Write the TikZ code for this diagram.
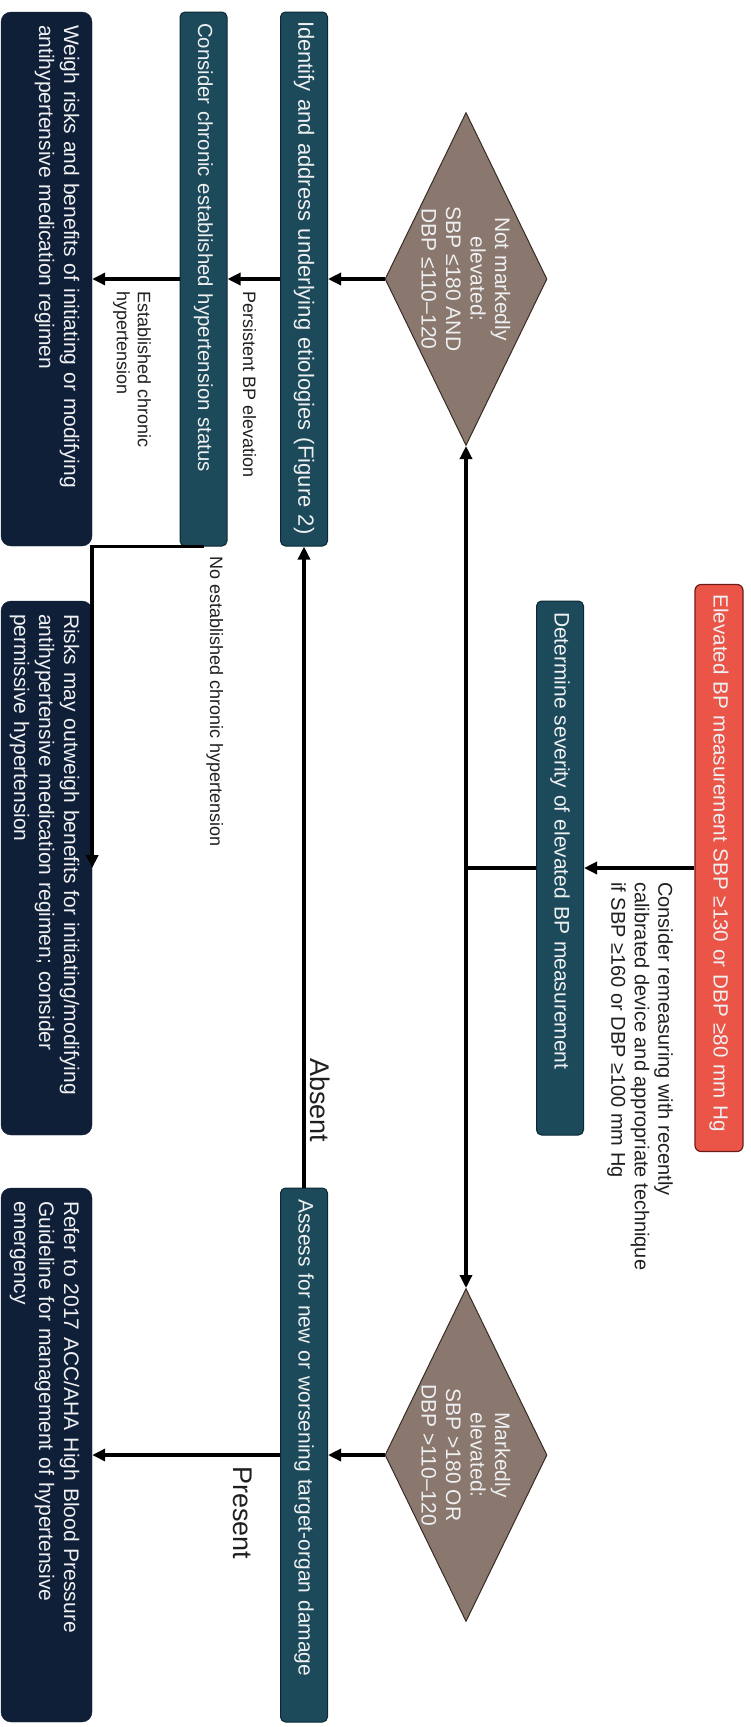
\documentclass[tikz,border=0pt]{standalone}
\usepackage{fontspec}
\setmainfont{Liberation Sans}
\usetikzlibrary{shapes.geometric,arrows.meta}
\definecolor{alertred}{RGB}{234,85,71}
\definecolor{alertline}{RGB}{110,28,24}
\definecolor{stepteal}{RGB}{28,74,90}
\definecolor{stepline}{RGB}{12,40,52}
\definecolor{choicebrown}{RGB}{138,119,109}
\definecolor{choiceline}{RGB}{55,44,38}
\definecolor{endnavy}{RGB}{16,31,56}
\definecolor{boxtext}{RGB}{238,240,242}

\tikzset{
  alertbox/.style={rectangle, rounded corners=6pt, draw=alertline, line width=1.2pt, fill=alertred,
    text=boxtext, font=\fontsize{20.6}{25}\selectfont, inner xsep=10pt, inner ysep=0pt,
    minimum height=48pt, text width=547pt, align=left},
  stepbox/.style={rectangle, rounded corners=5pt, draw=stepline, line width=1pt, fill=stepteal,
    text=boxtext, font=\fontsize{21}{25}\selectfont, inner xsep=11pt, inner ysep=0pt,
    minimum height=47pt, text width=512pt, align=left},
  endbox/.style={rectangle, rounded corners=10pt, draw=endnavy, fill=endnavy,
    text=boxtext, font=\fontsize{21}{25}\selectfont, inner xsep=13pt, inner ysep=0pt,
    text width=508pt, align=left, text height=28pt, text depth=63pt},
  choice/.style={diamond, draw=choiceline, line width=1pt, fill=choicebrown, inner sep=0pt,
    minimum width=333pt, minimum height=162pt},
  choicetext/.style={text=boxtext, font=\fontsize{21}{24.5}\selectfont, align=center, inner sep=0pt},
  note/.style={font=\fontsize{20}{23.5}\selectfont, text=black!88, inner sep=0pt, align=left},
  lbl/.style={font=\fontsize{18}{21}\selectfont, text=black!88, inner sep=0pt, align=left},
  biglbl/.style={font=\fontsize{27}{30}\selectfont, text=black!88, inner sep=0pt},
  link/.style={line width=3.5pt},
  arr/.style={line width=3.5pt, -{Triangle[length=13pt,width=12pt]}},
}

\begin{document}
\begin{tikzpicture}[x=1pt, y=1pt, rotate=-90, transform shape]
  \useasboundingbox (0,0) rectangle (1727,751);

  % top row
  \node[alertbox] (elevated) at (868,719) {Elevated BP measurement SBP ≥130 or DBP ≥80 mm Hg};
  \node[stepbox] (severity) at (868,560) {Determine severity of elevated BP measurement};
  \node[note, anchor=north west] (remeasure) at (882,673)
    {Consider remeasuring with recently\\calibrated device and appropriate technique\\if SBP ≥160 or DBP ≥100 mm Hg};

  % decisions
  \node[choice, label={[choicetext]center:{Not markedly\\elevated:\\SBP ≤180 AND\\DBP ≤110–120}}] (notmarked) at (279,466) {};
  \node[choice, label={[choicetext]center:{Markedly\\elevated:\\SBP >180 OR\\DBP >110–120}}] (marked) at (1455,466) {};
  \coordinate (split) at (868,466);

  % middle boxes
  \node[stepbox, font=\fontsize{22}{25}\selectfont, inner xsep=9pt, text width=516pt] (etiology) at (279,304) {Identify and address underlying etiologies (Figure 2)};
  \node[stepbox] (organ) at (1455,304) {Assess for new or worsening target-organ damage};
  \node[stepbox, font=\fontsize{20.4}{25}\selectfont] (chronic) at (279,203.5) {Consider chronic established hypertension status};

  % outcomes
  \node[endbox] (weigh) at (279,46.5) {Weigh risks and benefits of initiating or modifying\\antihypertensive medication regimen};
  \node[endbox] (permissive) at (868,46.5) {Risks may outweigh benefits for initiating/modifying\\antihypertensive medication regimen; consider\\permissive hypertension};
  \node[endbox] (guideline) at (1455,46.5) {Refer to 2017 ACC/AHA High Blood Pressure\\Guideline for management of hypertensive\\emergency};

  % connectors
  \draw[arr] (elevated.south) -- (severity.north);
  \draw[link] (severity.south) -- (split);
  \draw[arr] (split) -- (notmarked.east);
  \draw[arr] (split) -- (marked.west);
  \draw[arr] (notmarked.south) -- (etiology.north);
  \draw[arr] (marked.south) -- (organ.north);
  \draw[arr] (organ.west) -- (etiology.east);
  \draw[arr] (etiology.south) -- (chronic.north);
  \draw[arr] (chronic.south) -- (weigh.north);
  \draw[arr] (chronic.east) |- (permissive.north);
  \draw[arr] (organ.south) -- (guideline.north);

  % connector labels
  \node[biglbl, anchor=base west] (absent) at (1058,310) {Absent};
  \node[biglbl, anchor=base west] (present) at (1466,233) {Present};
  \node[lbl, anchor=base west] (persistent) at (291,243) {Persistent BP elevation};
  \node[lbl, anchor=north west] (established) at (291,151) {Established chronic\\hypertension};
  \node[lbl, anchor=base west] (noestablished) at (556,210) {No established chronic hypertension};
\end{tikzpicture}
\end{document}
